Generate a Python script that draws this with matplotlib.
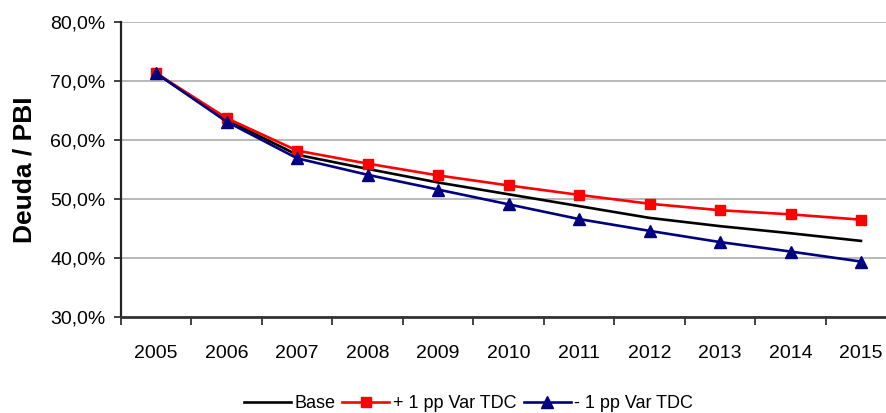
import matplotlib
matplotlib.use("Agg")
import matplotlib.pyplot as plt
from matplotlib.ticker import FuncFormatter

plt.rcParams['font.family'] = ['Liberation Sans', 'DejaVu Sans']

years = [2005, 2006, 2007, 2008, 2009, 2010, 2011, 2012, 2013, 2014, 2015]
base = [71.3, 63.4, 57.5, 55.1, 52.8, 50.8, 48.8, 46.8, 45.4, 44.2, 42.9]
plus_tdc = [71.3, 63.7, 58.2, 56.0, 54.0, 52.3, 50.7, 49.2, 48.1, 47.4, 46.5]
minus_tdc = [71.3, 63.1, 56.9, 54.1, 51.6, 49.1, 46.6, 44.6, 42.7, 41.1, 39.4]
labels = ["Base", "+ 1 pp Var TDC", "- 1 pp Var TDC"]

fig = plt.figure(figsize=(8.87, 4.13), dpi=100)
ax = fig.add_axes([0.1364, 0.2324, 0.874, 0.7143])

x = list(range(len(years)))
ax.plot(x, base, color="black", lw=1.9, label=labels[0], zorder=3)
ax.plot(x, plus_tdc, color="#ff0000", lw=1.9, marker="s", ms=7.5,
        label=labels[1], zorder=4)
ax.plot(x, minus_tdc, color="#000080", lw=1.9, marker="^", ms=8.5,
        label=labels[2], zorder=5)

ax.set_xlim(-0.5, 10.5)
ax.set_ylim(30, 80)
ax.set_yticks([30, 40, 50, 60, 70, 80])
ax.yaxis.set_major_formatter(FuncFormatter(lambda v, p: f"{v:.1f}%".replace(".", ",")))
ax.set_xticks(x)
ax.set_xticklabels([str(y) for y in years])
ax.set_xticks([i - 0.5 for i in range(len(years) + 1)], minor=True)
ax.tick_params(axis="x", which="major", length=0, pad=20, labelsize=14)
ax.tick_params(axis="x", which="minor", length=6, width=1.2, color="#222222")
ax.tick_params(axis="y", length=5, width=1.2, pad=6, labelsize=14, color="#222222")

ax.grid(axis="y", color="#a6a6a6", lw=1.1)
ax.set_axisbelow(True)
for s in ["top", "right"]:
    ax.spines[s].set_visible(False)
ax.spines["left"].set_color("#222222")
ax.spines["left"].set_linewidth(1.6)
ax.spines["bottom"].set_color("#333333")
ax.spines["bottom"].set_linewidth(2.0)

ax.set_ylabel("Deuda / PBI", fontsize=19, fontweight="bold", labelpad=10)

fig.legend(loc="center", bbox_to_anchor=(0.528, 0.022), ncol=3, frameon=False,
           fontsize=13, handlelength=2.6, handletextpad=0.2, columnspacing=0.4)

fig.savefig("out.png", dpi=100)
